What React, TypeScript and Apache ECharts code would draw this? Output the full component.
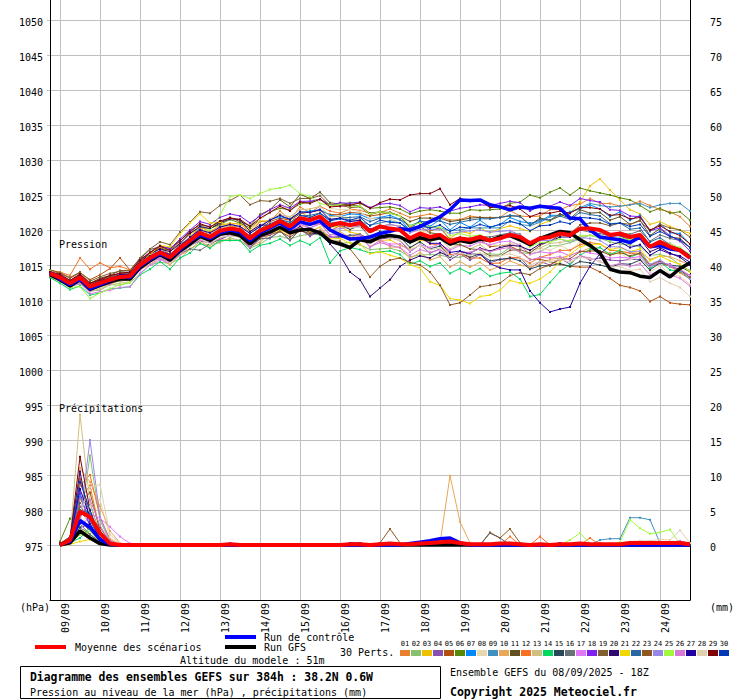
import React, { useEffect, useRef } from "react";
import * as echarts from "echarts";

// ---------- axes ----------
const STEP_HOURS = 6;
const RUN_HOURS = 384;
const DATE_TICK_HOURS = [6, 30, 54, 78, 102, 126, 150, 174, 198, 222, 246, 270, 294, 318, 342, 366];
const DATE_LABELS = ["09/09", "10/09", "11/09", "12/09", "13/09", "14/09", "15/09", "16/09", "17/09", "18/09", "19/09", "20/09", "21/09", "22/09", "23/09", "24/09"];
const PRESSURE_TICKS = [975, 980, 985, 990, 995, 1000, 1005, 1010, 1015, 1020, 1025, 1030, 1035, 1040, 1045, 1050];
const PRECIP_TICKS = [0, 5, 10, 15, 20, 25, 30, 35, 40, 45, 50, 55, 60, 65, 70, 75];
const PRESSURE_MIN = 967.142857;
const PRESSURE_MAX = 1052.857143;
const PRECIP_MIN = -7.857143;
const PRECIP_MAX = 77.857143;

const MEMBER_COLORS = ["#e88030", "#88c070", "#f0c000", "#8850b0", "#b05010", "#588808", "#0088ff", "#e8d8b0", "#4090c0", "#e8a858", "#605020", "#f87020", "#d0c080", "#00d860", "#284858", "#687078", "#e078f8", "#8020f0", "#806030", "#300870", "#f0d800", "#2868a0", "#905820", "#9888e8", "#a0f840", "#d878d8", "#2000a0", "#e0d0b0", "#800008", "#0038b8"];

// ---------- pressure (hPa), every 6 h from 08/09 18Z ----------
const PRES_MEAN = [
  1013.8, 1013.2, 1012.4, 1013.2, 1011.9, 1012.4, 1012.9, 1013.3, 1013.4,
  1015.0, 1016.0, 1016.8, 1016.1, 1017.4, 1018.5, 1019.6, 1019.0, 1019.9, 1020.2, 1020.0,
  1018.8, 1019.9, 1020.5, 1021.3, 1020.5, 1021.7, 1021.4, 1021.9,
  1020.7, 1021.0, 1020.7, 1021.0, 1019.8, 1020.5, 1020.2, 1020.0,
  1018.8, 1019.5, 1019.0, 1019.3, 1018.3, 1018.8, 1018.6, 1019.0, 1018.5, 1018.8,
  1019.3, 1019.0, 1018.1, 1018.8, 1019.0, 1019.5, 1019.3, 1020.2, 1020.2, 1020.0,
  1019.3, 1019.5, 1019.0, 1019.3, 1017.6, 1018.3, 1017.6, 1017.1, 1016.0,
];
const PRES_CONTROL = [
  1013.9, 1013.0, 1012.2, 1013.0, 1011.6, 1012.2, 1012.8, 1013.4, 1013.2,
  1014.8, 1015.8, 1016.6, 1016.0, 1017.2, 1018.4, 1019.3, 1018.8, 1019.6, 1020.0, 1019.7,
  1018.5, 1019.6, 1020.3, 1021.0, 1020.1, 1021.2, 1020.8, 1021.3,
  1020.0, 1019.3, 1018.7, 1018.8, 1019.0, 1019.5, 1019.8, 1020.2,
  1020.0, 1020.5, 1021.2, 1021.9, 1022.9, 1024.3, 1024.2, 1024.3, 1023.6, 1023.3,
  1022.9, 1023.3, 1023.1, 1023.4, 1023.2, 1023.1, 1021.7, 1021.6, 1020.0, 1019.0,
  1018.8, 1018.6, 1018.2, 1019.0, 1017.6, 1017.8, 1017.3, 1017.1, 1016.1,
];
const PRES_GFS = [
  1013.6, 1012.9, 1012.0, 1012.9, 1011.5, 1012.1, 1012.6, 1013.0, 1013.0,
  1014.6, 1015.6, 1016.5, 1015.7, 1017.0, 1018.0, 1019.1, 1018.5, 1019.4, 1019.6, 1019.2,
  1018.0, 1019.2, 1019.7, 1020.4, 1019.6, 1020.0, 1020.1, 1019.6,
  1018.4, 1018.0, 1017.5, 1018.6, 1018.3, 1019.0, 1019.2, 1019.0,
  1018.3, 1018.9, 1018.6, 1018.9, 1018.0, 1018.5, 1018.2, 1018.7, 1018.5, 1019.0,
  1019.2, 1018.6, 1017.9, 1018.8, 1019.3, 1019.8, 1019.6, 1018.6, 1017.8, 1016.7,
  1014.4, 1014.0, 1013.9, 1013.4, 1013.2, 1014.2, 1013.3, 1014.5, 1015.3,
];
const PRES_01 = [
  1014.0, 1013.6, 1012.5, 1013.8, 1012.2, 1013.1, 1013.2, 1013.9, 1013.9,
  1015.2, 1016.8, 1017.2, 1017.0, 1017.9, 1018.8, 1020.6, 1019.6, 1020.8, 1020.7, 1021.1,
  1019.5, 1021.2, 1021.3, 1022.7, 1021.5, 1023.3, 1022.5, 1023.4,
  1022.7, 1022.4, 1023.0, 1022.8, 1022.4, 1022.5, 1023.0, 1022.4,
  1021.8, 1022.0, 1022.3, 1021.9, 1021.4, 1021.5, 1022.0, 1021.8, 1021.8, 1021.8,
  1022.8, 1022.0, 1021.9, 1022.0, 1022.9, 1022.9, 1023.5, 1023.7, 1024.5, 1023.8,
  1023.8, 1023.4, 1023.6, 1024.1, 1023.5, 1022.9, 1022.6, 1021.9, 1020.5,
];
const PRES_02 = [
  1013.5, 1012.7, 1012.0, 1012.3, 1011.3, 1011.4, 1012.2, 1012.1, 1012.5,
  1013.7, 1015.0, 1015.4, 1015.2, 1015.9, 1017.3, 1018.0, 1017.9, 1018.2, 1018.9, 1018.5,
  1017.4, 1018.0, 1018.9, 1019.1, 1018.7, 1019.2, 1019.4, 1019.3,
  1018.3, 1018.1, 1018.2, 1017.9, 1017.2, 1017.3, 1017.4, 1017.0,
  1016.2, 1016.4, 1016.5, 1016.4, 1016.1, 1016.1, 1016.6, 1016.5, 1016.6, 1016.5,
  1017.5, 1016.8, 1016.6, 1016.9, 1017.7, 1017.8, 1018.2, 1018.7, 1019.3, 1018.8,
  1018.3, 1018.0, 1017.9, 1017.6, 1016.4, 1016.5, 1016.1, 1015.0, 1014.2,
];
const PRES_03 = [
  1013.7, 1013.4, 1012.6, 1013.3, 1012.2, 1012.5, 1013.2, 1013.4, 1013.8,
  1015.4, 1016.6, 1017.5, 1016.9, 1018.2, 1019.3, 1020.4, 1019.8, 1020.6, 1021.0, 1020.8,
  1020.0, 1021.3, 1021.3, 1022.3, 1020.9, 1022.6, 1021.7, 1022.4,
  1020.4, 1020.5, 1019.7, 1019.4, 1018.6, 1018.5, 1018.6, 1017.8,
  1017.3, 1018.5, 1018.4, 1019.4, 1018.8, 1019.8, 1019.5, 1020.3, 1019.6, 1020.2,
  1020.6, 1020.2, 1019.8, 1020.8, 1021.3, 1022.0, 1022.4, 1024.0, 1026.3, 1027.3,
  1025.7, 1024.3, 1022.9, 1022.3, 1020.8, 1021.2, 1020.5, 1020.0, 1019.5,
];
const PRES_04 = [
  1014.0, 1013.2, 1012.3, 1012.9, 1011.6, 1012.0, 1012.5, 1012.7, 1012.9,
  1014.4, 1015.6, 1015.9, 1015.6, 1016.4, 1017.8, 1018.4, 1018.2, 1018.6, 1019.3, 1019.0,
  1017.5, 1018.8, 1018.8, 1019.9, 1018.5, 1020.1, 1019.1, 1019.9,
  1019.1, 1018.9, 1019.3, 1019.1, 1018.6, 1018.7, 1018.9, 1018.5,
  1016.9, 1017.9, 1016.7, 1017.3, 1015.7, 1016.6, 1015.7, 1016.5, 1015.3, 1015.8,
  1015.9, 1016.1, 1014.5, 1015.5, 1015.0, 1016.0, 1015.1, 1016.4, 1015.7, 1016.0,
  1015.7, 1015.6, 1015.8, 1015.8, 1014.8, 1015.2, 1015.1, 1014.2, 1013.5,
];
const PRES_05 = [
  1014.3, 1013.8, 1013.1, 1013.9, 1012.9, 1013.6, 1014.5, 1016.0, 1014.3,
  1015.9, 1016.6, 1017.6, 1016.4, 1017.9, 1018.6, 1020.0, 1018.8, 1020.1, 1019.9, 1020.1,
  1019.2, 1020.1, 1021.2, 1021.7, 1021.4, 1022.3, 1022.6, 1022.8,
  1022.2, 1022.2, 1022.5, 1022.4, 1022.0, 1022.2, 1022.5, 1022.0,
  1020.3, 1021.3, 1019.9, 1020.3, 1018.7, 1019.0, 1018.3, 1018.6, 1017.6, 1017.8,
  1017.7, 1017.0, 1015.8, 1015.8, 1015.5, 1015.1, 1014.8, 1014.7, 1014.7, 1014.0,
  1013.1, 1012.1, 1011.8, 1011.3, 1009.8, 1010.5, 1009.6, 1009.4, 1009.3,
];
const PRES_06 = [
  1013.9, 1013.4, 1012.6, 1013.6, 1012.1, 1012.9, 1013.1, 1013.9, 1013.8,
  1015.5, 1016.8, 1017.4, 1017.1, 1018.1, 1019.6, 1020.4, 1020.2, 1020.8, 1021.5, 1021.0,
  1020.3, 1021.5, 1022.6, 1023.1, 1022.9, 1023.7, 1024.0, 1024.4,
  1023.6, 1023.6, 1023.9, 1023.8, 1023.1, 1023.2, 1023.3, 1023.0,
  1022.3, 1022.7, 1022.9, 1022.7, 1022.4, 1022.4, 1022.9, 1022.8, 1022.9, 1023.0,
  1023.8, 1024.0, 1025.0, 1024.6, 1025.4, 1026.0, 1025.0, 1026.0, 1025.6, 1025.3,
  1025.0, 1024.6, 1024.3, 1023.5, 1022.6, 1023.1, 1022.4, 1022.6, 1021.4,
];
const PRES_07 = [
  1013.6, 1013.1, 1012.2, 1013.3, 1011.7, 1012.5, 1012.8, 1013.5, 1013.3,
  1015.3, 1016.1, 1017.3, 1016.3, 1018.0, 1018.8, 1020.3, 1019.2, 1020.5, 1020.6, 1020.5,
  1019.6, 1020.4, 1021.5, 1021.9, 1021.6, 1022.5, 1022.7, 1022.9,
  1022.1, 1021.9, 1022.3, 1022.2, 1021.6, 1021.8, 1022.1, 1021.5,
  1020.0, 1021.4, 1020.5, 1021.5, 1020.0, 1021.1, 1020.4, 1021.4, 1020.4, 1020.8,
  1021.8, 1021.2, 1021.0, 1021.2, 1022.1, 1022.1, 1022.6, 1023.0, 1023.6, 1023.0,
  1021.9, 1022.6, 1021.4, 1022.1, 1019.8, 1020.9, 1019.6, 1019.5, 1018.0,
];
const PRES_08 = [
  1014.1, 1013.4, 1012.6, 1013.3, 1012.0, 1012.3, 1013.1, 1013.2, 1013.4,
  1015.3, 1016.6, 1017.2, 1017.0, 1018.1, 1019.7, 1020.5, 1020.4, 1021.0, 1021.8, 1021.5,
  1020.7, 1021.5, 1022.7, 1023.3, 1023.1, 1024.0, 1024.2, 1024.4,
  1023.1, 1022.9, 1022.9, 1022.6, 1021.6, 1021.7, 1021.6, 1021.0,
  1019.7, 1019.9, 1019.6, 1019.3, 1018.4, 1018.4, 1018.3, 1018.2, 1017.9, 1017.8,
  1018.0, 1018.0, 1016.5, 1017.4, 1017.1, 1017.8, 1017.1, 1018.2, 1017.6, 1017.5,
  1016.4, 1016.8, 1015.7, 1016.3, 1014.0, 1014.9, 1013.7, 1013.4, 1012.2,
];
const PRES_09 = [
  1013.8, 1013.0, 1012.2, 1012.9, 1011.7, 1012.0, 1012.7, 1012.9, 1013.1,
  1014.4, 1015.7, 1016.1, 1015.7, 1016.8, 1018.2, 1018.9, 1018.6, 1019.3, 1019.9, 1019.5,
  1018.2, 1019.7, 1020.0, 1021.4, 1020.2, 1021.9, 1021.2, 1021.9,
  1021.1, 1021.1, 1021.3, 1021.3, 1020.7, 1021.0, 1021.3, 1021.0,
  1020.1, 1020.4, 1020.4, 1020.3, 1019.9, 1020.0, 1020.3, 1020.3, 1020.3, 1020.3,
  1021.3, 1020.8, 1020.6, 1021.1, 1021.9, 1022.1, 1022.5, 1023.2, 1023.8, 1023.5,
  1023.3, 1023.4, 1023.6, 1023.8, 1023.2, 1023.6, 1023.8, 1023.8, 1022.7,
];
const PRES_10 = [
  1013.3, 1012.6, 1012.0, 1012.6, 1011.5, 1011.8, 1012.5, 1012.7, 1012.9,
  1014.3, 1015.1, 1016.0, 1015.0, 1016.4, 1017.2, 1018.4, 1017.5, 1018.6, 1018.6, 1018.5,
  1017.6, 1018.3, 1019.4, 1019.9, 1019.7, 1020.5, 1020.7, 1020.9,
  1019.3, 1019.8, 1018.9, 1019.4, 1017.6, 1018.5, 1017.6, 1017.5,
  1015.9, 1016.8, 1015.7, 1016.2, 1014.7, 1015.5, 1014.7, 1015.4, 1014.3, 1014.8,
  1015.6, 1015.0, 1014.7, 1015.1, 1015.8, 1016.0, 1016.4, 1016.9, 1017.4, 1017.0,
  1016.7, 1016.6, 1016.8, 1016.9, 1015.8, 1016.3, 1016.2, 1015.6, 1015.0,
];
const PRES_11 = [
  1014.0, 1013.6, 1012.7, 1013.7, 1012.4, 1013.1, 1013.5, 1014.2, 1014.2,
  1015.9, 1017.2, 1017.6, 1017.4, 1018.4, 1019.9, 1020.7, 1020.5, 1021.1, 1021.8, 1021.2,
  1020.6, 1022.2, 1022.9, 1024.3, 1023.3, 1025.1, 1024.5, 1025.4,
  1023.9, 1023.7, 1023.6, 1023.4, 1022.4, 1022.6, 1022.5, 1022.0,
  1021.2, 1021.7, 1021.7, 1021.7, 1021.2, 1021.4, 1021.7, 1021.8, 1021.7, 1021.8,
  1022.0, 1022.0, 1020.7, 1021.7, 1021.4, 1022.3, 1021.6, 1022.9, 1022.4, 1022.5,
  1021.4, 1021.9, 1020.8, 1021.4, 1019.2, 1020.2, 1019.0, 1018.8, 1017.5,
];
const PRES_12 = [
  1014.2, 1014.0, 1013.5, 1016.0, 1014.4, 1015.3, 1014.6, 1014.8, 1014.3,
  1015.6, 1016.3, 1017.5, 1016.5, 1017.9, 1018.7, 1020.2, 1019.3, 1020.4, 1020.4, 1020.5,
  1018.9, 1019.7, 1020.5, 1020.8, 1020.2, 1020.9, 1020.8, 1020.9,
  1019.9, 1020.6, 1020.1, 1020.9, 1020.0, 1020.5, 1020.8, 1020.5,
  1018.7, 1019.0, 1018.0, 1017.9, 1016.5, 1016.6, 1016.0, 1016.0, 1015.2, 1015.3,
  1016.1, 1016.0, 1015.3, 1016.1, 1016.5, 1017.1, 1017.1, 1017.9, 1018.2, 1018.0,
  1017.1, 1017.0, 1016.7, 1016.5, 1015.0, 1015.3, 1014.8, 1013.9, 1013.0,
];
const PRES_13 = [
  1013.5, 1012.8, 1011.8, 1012.6, 1011.2, 1011.6, 1012.2, 1012.4, 1012.6,
  1014.4, 1015.6, 1016.5, 1016.0, 1017.4, 1018.7, 1019.7, 1019.4, 1020.2, 1020.8, 1020.5,
  1019.6, 1020.6, 1021.6, 1022.2, 1021.9, 1022.9, 1023.0, 1023.4,
  1021.9, 1022.0, 1021.4, 1021.6, 1020.1, 1020.8, 1020.1, 1020.0,
  1018.4, 1019.3, 1018.3, 1018.8, 1017.3, 1018.0, 1017.3, 1017.9, 1016.9, 1017.3,
  1018.1, 1017.5, 1017.1, 1017.4, 1018.1, 1018.2, 1018.5, 1019.0, 1019.3, 1019.0,
  1018.7, 1018.7, 1018.8, 1018.9, 1017.8, 1018.3, 1018.1, 1017.4, 1016.5,
];
const PRES_14 = [
  1013.2, 1012.4, 1011.5, 1012.0, 1010.7, 1011.0, 1011.6, 1011.7, 1011.9,
  1013.6, 1014.4, 1015.5, 1014.4, 1016.0, 1016.7, 1018.1, 1017.4, 1018.5, 1018.5, 1018.5,
  1016.9, 1017.8, 1018.1, 1018.7, 1017.8, 1018.5, 1017.9, 1018.9,
  1015.3, 1017.0, 1017.5, 1017.2, 1016.7, 1016.9, 1017.0, 1016.5,
  1015.1, 1015.6, 1014.8, 1015.3, 1013.8, 1014.5, 1013.8, 1014.5, 1013.4, 1013.8,
  1014.0, 1013.0, 1010.5, 1010.8, 1012.5, 1014.1, 1015.1, 1016.4, 1017.2, 1017.5,
  1016.5, 1017.1, 1016.1, 1016.7, 1014.5, 1015.5, 1014.3, 1014.1, 1013.0,
];
const PRES_15 = [
  1013.8, 1013.3, 1012.6, 1013.4, 1012.0, 1012.7, 1013.0, 1013.6, 1013.7,
  1015.1, 1015.9, 1016.8, 1015.8, 1017.2, 1018.0, 1019.3, 1018.4, 1019.5, 1019.5, 1019.5,
  1018.4, 1019.3, 1020.3, 1020.9, 1020.6, 1021.5, 1021.6, 1021.9,
  1020.4, 1020.8, 1020.1, 1020.6, 1019.0, 1019.8, 1019.1, 1019.0,
  1017.5, 1018.3, 1017.3, 1017.7, 1016.2, 1016.8, 1016.1, 1016.6, 1015.6, 1015.8,
  1016.0, 1015.6, 1014.4, 1014.9, 1014.9, 1015.2, 1014.8, 1015.5, 1015.3, 1015.0,
  1014.6, 1015.2, 1015.1, 1015.7, 1014.3, 1015.3, 1015.0, 1014.8, 1014.0,
];
const PRES_16 = [
  1013.9, 1013.2, 1012.5, 1013.2, 1012.0, 1012.3, 1013.0, 1013.2, 1013.4,
  1014.8, 1015.6, 1016.5, 1015.5, 1016.6, 1017.3, 1017.1, 1018.0, 1018.7, 1019.3, 1019.0,
  1017.5, 1018.7, 1018.9, 1019.8, 1018.6, 1020.0, 1019.3, 1019.9,
  1018.9, 1019.1, 1019.2, 1019.4, 1018.6, 1019.2, 1019.3, 1019.0,
  1018.1, 1018.7, 1018.6, 1018.8, 1018.2, 1018.6, 1018.8, 1019.1, 1019.0, 1019.3,
  1019.6, 1019.4, 1018.2, 1019.0, 1018.9, 1019.5, 1019.0, 1020.0, 1019.7, 1019.5,
  1019.1, 1019.6, 1019.4, 1019.9, 1018.4, 1019.3, 1018.8, 1018.5, 1017.5,
];
const PRES_17 = [
  1013.6, 1012.8, 1011.9, 1012.4, 1010.9, 1011.2, 1011.4, 1011.8, 1011.9,
  1013.8, 1015.0, 1015.7, 1015.3, 1016.5, 1017.9, 1018.8, 1018.5, 1019.2, 1019.8, 1019.5,
  1018.1, 1019.3, 1019.5, 1020.4, 1019.2, 1020.5, 1019.8, 1020.4,
  1018.9, 1019.4, 1018.6, 1019.2, 1017.5, 1018.5, 1018.0, 1018.0,
  1017.0, 1017.9, 1017.5, 1018.0, 1017.1, 1017.8, 1017.7, 1018.3, 1017.9, 1018.3,
  1018.4, 1017.8, 1016.5, 1016.9, 1016.7, 1016.9, 1016.3, 1017.0, 1016.7, 1016.5,
  1016.0, 1016.1, 1016.0, 1016.2, 1014.8, 1015.4, 1015.0, 1014.4, 1013.5,
];
const PRES_18 = [
  1014.1, 1013.5, 1012.8, 1013.6, 1012.3, 1012.9, 1013.4, 1013.8, 1013.9,
  1015.7, 1016.8, 1017.8, 1017.3, 1018.7, 1020.0, 1021.2, 1020.8, 1021.8, 1022.3, 1022.0,
  1021.0, 1022.0, 1022.9, 1023.6, 1023.1, 1024.1, 1024.1, 1024.4,
  1023.5, 1023.9, 1023.8, 1024.0, 1023.2, 1023.7, 1023.8, 1023.5,
  1022.6, 1023.2, 1023.1, 1023.3, 1022.7, 1023.1, 1023.3, 1023.6, 1023.5, 1023.8,
  1024.1, 1023.9, 1022.7, 1023.5, 1023.4, 1024.0, 1023.5, 1024.5, 1024.2, 1024.0,
  1022.9, 1022.8, 1022.0, 1021.9, 1019.9, 1020.3, 1019.2, 1018.4, 1017.0,
];
const PRES_19 = [
  1014.3, 1013.9, 1013.2, 1014.0, 1012.7, 1013.3, 1013.8, 1014.1, 1014.2,
  1016.0, 1017.3, 1018.3, 1017.9, 1019.7, 1021.1, 1022.6, 1022.4, 1023.5, 1024.2, 1025.0,
  1023.6, 1024.2, 1024.1, 1024.5, 1023.8, 1024.5, 1024.5, 1024.9,
  1023.5, 1023.6, 1023.2, 1023.3, 1022.2, 1022.6, 1022.4, 1022.0,
  1020.3, 1020.5, 1019.6, 1019.4, 1017.9, 1017.9, 1017.3, 1017.2, 1016.3, 1016.3,
  1017.1, 1017.2, 1016.7, 1017.8, 1018.4, 1019.3, 1019.5, 1020.7, 1021.0, 1021.0,
  1020.6, 1021.0, 1020.8, 1021.3, 1019.9, 1020.8, 1020.3, 1020.0, 1019.0,
];
const PRES_20 = [
  1013.8, 1013.3, 1012.7, 1013.4, 1012.1, 1012.8, 1013.1, 1013.6, 1013.7,
  1015.4, 1016.6, 1017.3, 1016.9, 1018.1, 1019.5, 1020.5, 1020.2, 1021.0, 1021.6, 1021.5,
  1019.8, 1020.7, 1020.7, 1021.0, 1019.7, 1020.5, 1019.6, 1019.4,
  1018.0, 1016.4, 1014.0, 1012.9, 1010.5, 1011.7, 1012.9, 1014.8,
  1015.7, 1016.3, 1016.0, 1016.8, 1016.2, 1016.9, 1016.7, 1017.4, 1017.0, 1017.5,
  1017.8, 1017.7, 1017.1, 1018.0, 1018.4, 1019.0, 1019.0, 1020.0, 1020.2, 1020.0,
  1019.1, 1019.2, 1018.5, 1018.7, 1016.9, 1017.5, 1016.7, 1016.1, 1015.0,
];
const PRES_21 = [
  1013.5, 1012.9, 1012.0, 1012.8, 1011.4, 1011.9, 1012.3, 1012.8, 1012.8,
  1015.0, 1016.5, 1017.8, 1017.6, 1019.4, 1021.0, 1022.3, 1021.0, 1021.1, 1020.6, 1019.8,
  1018.3, 1019.3, 1019.6, 1020.1, 1019.2, 1020.2, 1019.8, 1020.4,
  1018.7, 1018.8, 1018.1, 1018.0, 1016.6, 1016.9, 1016.4, 1016.0,
  1015.0, 1014.6, 1012.6, 1012.1, 1010.2, 1010.0, 1009.5, 1010.5, 1010.7, 1011.4,
  1012.8, 1012.4, 1012.4, 1013.0, 1014.0, 1015.5, 1016.5, 1017.6, 1017.9, 1018.0,
  1017.2, 1017.5, 1016.9, 1017.3, 1015.6, 1016.3, 1015.6, 1015.1, 1014.0,
];
const PRES_22 = [
  1014.0, 1013.3, 1012.5, 1013.3, 1011.9, 1012.3, 1013.0, 1013.2, 1013.4,
  1015.2, 1015.9, 1017.0, 1015.9, 1017.5, 1018.4, 1019.8, 1018.9, 1020.0, 1020.3, 1020.0,
  1019.1, 1020.0, 1020.9, 1021.5, 1021.1, 1022.0, 1022.1, 1022.4,
  1021.5, 1021.7, 1021.8, 1021.9, 1021.2, 1021.7, 1021.8, 1021.5,
  1020.6, 1021.2, 1021.2, 1021.3, 1020.8, 1021.1, 1021.4, 1021.6, 1021.6, 1021.8,
  1022.1, 1021.9, 1020.7, 1021.5, 1021.4, 1022.0, 1021.5, 1022.5, 1022.2, 1022.0,
  1020.9, 1021.0, 1020.1, 1020.3, 1018.3, 1018.9, 1017.9, 1017.3, 1016.0,
];
const PRES_23 = [
  1013.6, 1013.4, 1012.7, 1013.6, 1012.2, 1012.9, 1013.3, 1013.8, 1013.9,
  1015.3, 1016.2, 1016.7, 1015.9, 1017.1, 1018.3, 1019.1, 1018.6, 1019.3, 1019.7, 1019.5,
  1018.0, 1018.9, 1019.3, 1019.8, 1019.0, 1019.9, 1019.5, 1019.9,
  1018.4, 1018.4, 1017.3, 1015.5, 1013.3, 1014.8, 1015.7, 1016.0,
  1015.4, 1015.0, 1014.0, 1012.1, 1009.3, 1009.6, 1010.7, 1011.9, 1012.1, 1012.4,
  1013.5, 1013.9, 1013.6, 1014.5, 1015.0, 1015.8, 1015.9, 1016.9, 1017.0, 1017.0,
  1016.4, 1016.8, 1016.3, 1016.7, 1015.0, 1015.6, 1014.8, 1014.3, 1013.2,
];
const PRES_24 = [
  1013.8, 1013.0, 1012.1, 1012.8, 1011.4, 1011.9, 1012.4, 1012.8, 1012.9,
  1014.6, 1015.7, 1016.6, 1015.8, 1017.3, 1018.3, 1019.7, 1018.9, 1020.1, 1020.1, 1020.0,
  1018.5, 1019.7, 1019.9, 1020.9, 1019.6, 1021.0, 1020.3, 1020.9,
  1020.0, 1020.2, 1020.4, 1020.6, 1019.9, 1020.5, 1020.8, 1020.5,
  1019.6, 1020.1, 1020.1, 1020.1, 1019.5, 1019.7, 1019.9, 1020.0, 1019.7, 1019.8,
  1019.9, 1019.3, 1018.2, 1018.5, 1018.5, 1018.7, 1018.3, 1018.9, 1018.8, 1018.5,
  1017.6, 1017.6, 1016.9, 1017.0, 1015.1, 1015.7, 1014.8, 1014.2, 1013.0,
];
const PRES_25 = [
  1014.1, 1013.0, 1011.8, 1011.9, 1010.2, 1011.0, 1011.6, 1012.2, 1012.5,
  1014.4, 1015.7, 1016.7, 1015.9, 1017.6, 1018.3, 1019.9, 1020.0, 1022.1, 1024.8, 1025.0,
  1024.5, 1025.2, 1025.8, 1026.0, 1026.4, 1025.2, 1024.8, 1023.8,
  1023.5, 1023.6, 1023.4, 1023.4, 1022.3, 1022.6, 1022.4, 1022.0,
  1020.6, 1021.0, 1020.4, 1020.4, 1019.2, 1019.5, 1019.1, 1019.3, 1018.7, 1018.8,
  1019.1, 1018.7, 1017.6, 1018.2, 1018.3, 1018.7, 1018.4, 1019.2, 1019.2, 1019.0,
  1018.5, 1018.9, 1018.6, 1019.1, 1017.6, 1018.5, 1017.9, 1017.5, 1016.5,
];
const PRES_26 = [
  1013.4, 1012.7, 1012.0, 1012.7, 1011.3, 1012.0, 1012.3, 1012.9, 1012.9,
  1014.3, 1015.4, 1016.0, 1015.4, 1016.5, 1017.7, 1018.6, 1018.1, 1018.8, 1019.3, 1019.0,
  1017.6, 1019.0, 1019.4, 1020.5, 1019.3, 1020.8, 1020.3, 1020.9,
  1019.3, 1019.4, 1018.9, 1019.0, 1017.6, 1018.2, 1017.8, 1017.5,
  1016.4, 1017.2, 1016.8, 1017.2, 1016.3, 1016.9, 1016.8, 1017.3, 1016.9, 1017.3,
  1017.5, 1016.9, 1015.7, 1016.1, 1016.0, 1016.2, 1015.7, 1016.3, 1016.0, 1015.5,
  1014.9, 1015.2, 1014.8, 1015.2, 1013.6, 1014.3, 1013.6, 1013.1, 1012.0,
];
const PRES_27 = [
  1013.9, 1013.4, 1012.6, 1013.4, 1012.0, 1012.6, 1013.0, 1013.5, 1013.6,
  1015.2, 1016.3, 1017.0, 1016.5, 1017.7, 1019.0, 1020.0, 1019.6, 1020.4, 1020.8, 1020.5,
  1019.5, 1020.5, 1021.4, 1022.1, 1021.5, 1022.6, 1022.5, 1022.9,
  1021.5, 1021.7, 1021.2, 1021.4, 1020.1, 1020.6, 1020.3, 1020.0,
  1018.5, 1018.9, 1018.1, 1018.1, 1016.8, 1017.0, 1016.5, 1016.6, 1015.2, 1014.6,
  1014.3, 1014.3, 1011.3, 1009.6, 1008.3, 1008.7, 1009.0, 1012.4, 1014.8, 1016.6,
  1017.8, 1018.3, 1017.5, 1017.9, 1016.4, 1017.2, 1016.6, 1016.3, 1015.4,
];
const PRES_28 = [
  1013.8, 1013.0, 1012.2, 1012.9, 1011.6, 1011.9, 1012.6, 1012.9, 1013.1,
  1014.6, 1015.4, 1016.3, 1015.3, 1016.7, 1017.6, 1018.8, 1018.0, 1019.0, 1019.1, 1019.0,
  1018.1, 1019.4, 1020.2, 1021.2, 1020.6, 1022.0, 1021.8, 1022.4,
  1020.9, 1020.9, 1020.3, 1020.4, 1018.9, 1019.4, 1018.9, 1018.5,
  1017.2, 1017.8, 1017.2, 1017.4, 1016.3, 1016.7, 1016.4, 1016.7, 1016.1, 1016.3,
  1016.6, 1016.1, 1015.0, 1015.5, 1015.5, 1015.8, 1015.4, 1016.1, 1015.9, 1015.5,
  1014.7, 1014.8, 1014.2, 1014.4, 1012.6, 1013.2, 1012.4, 1011.8, 1010.5,
];
const PRES_29 = [
  1014.0, 1013.7, 1012.8, 1013.7, 1012.4, 1012.9, 1013.5, 1013.8, 1014.0,
  1015.7, 1016.8, 1017.7, 1017.1, 1018.5, 1019.7, 1020.9, 1020.4, 1021.3, 1021.7, 1021.5,
  1020.5, 1021.7, 1022.5, 1023.4, 1022.7, 1024.0, 1023.8, 1024.4,
  1023.3, 1023.4, 1023.5, 1023.9, 1023.1, 1023.9, 1024.4, 1024.3,
  1025.0, 1025.2, 1025.2, 1025.9, 1023.6, 1024.5, 1024.1, 1024.2, 1023.2, 1023.3,
  1023.5, 1023.0, 1021.9, 1022.4, 1022.4, 1022.7, 1022.4, 1023.2, 1023.2, 1023.0,
  1022.1, 1022.2, 1021.6, 1021.8, 1020.0, 1020.6, 1019.8, 1019.2, 1018.0,
];
const PRES_30 = [
  1013.7, 1013.1, 1012.3, 1013.1, 1011.8, 1012.3, 1012.9, 1013.2, 1013.4,
  1014.9, 1015.7, 1016.6, 1015.7, 1017.1, 1018.0, 1019.2, 1018.4, 1019.5, 1019.6, 1019.5,
  1018.6, 1019.8, 1020.6, 1021.5, 1020.8, 1022.1, 1021.8, 1022.4,
  1021.3, 1021.6, 1021.4, 1021.8, 1020.6, 1021.4, 1021.1, 1021.0,
  1019.9, 1020.7, 1020.3, 1020.7, 1019.8, 1020.4, 1020.3, 1020.8, 1020.4, 1020.8,
  1021.2, 1020.9, 1019.9, 1020.6, 1020.7, 1021.2, 1020.9, 1021.8, 1021.7, 1021.5,
  1020.8, 1021.0, 1020.5, 1020.8, 1019.1, 1019.8, 1019.1, 1018.6, 1017.5,
];
const MEMBER_PRESSURE = [PRES_01, PRES_02, PRES_03, PRES_04, PRES_05, PRES_06, PRES_07, PRES_08, PRES_09, PRES_10, PRES_11, PRES_12, PRES_13, PRES_14, PRES_15, PRES_16, PRES_17, PRES_18, PRES_19, PRES_20, PRES_21, PRES_22, PRES_23, PRES_24, PRES_25, PRES_26, PRES_27, PRES_28, PRES_29, PRES_30];

// ---------- precipitation (mm per 6 h), from 09/09 00Z ----------
const RAIN_MEAN = [
  0, 0.7, 4.8, 4, 1.7, 0.2, 0, 0,
  0, 0, 0, 0, 0, 0, 0, 0,
  0, 0.1, 0, 0, 0, 0, 0, 0,
  0, 0, 0, 0, 0, 0.1, 0.1, 0,
  0.1, 0.2, 0.1, 0.1, 0.2, 0.3, 0.4, 0.5,
  0.3, 0.1, 0.1, 0.1, 0.2, 0.2, 0.1, 0,
  0.1, 0, 0.1, 0.1, 0.2, 0.1, 0.1, 0.1,
  0.1, 0.3, 0.3, 0.3, 0.3, 0.3, 0.3, 0.1,
];
const RAIN_CONTROL = [
  0.1, 0.5, 3.5, 2.5, 0.8, 0.1, 0, 0,
  0, 0, 0, 0, 0, 0, 0, 0,
  0, 0, 0, 0, 0, 0, 0, 0,
  0, 0, 0, 0, 0, 0, 0, 0,
  0, 0, 0, 0.2, 0.4, 0.6, 0.9, 1.0,
  0.3, 0, 0, 0, 0, 0, 0, 0,
  0, 0, 0, 0, 0, 0, 0, 0,
  0, 0, 0, 0, 0, 0, 0, 0,
];
const RAIN_GFS = [
  0, 0.3, 2, 1, 0.2, 0, 0, 0,
  0, 0, 0, 0, 0, 0, 0, 0,
  0, 0, 0, 0, 0, 0, 0, 0,
  0, 0, 0, 0, 0, 0, 0, 0,
  0, 0, 0, 0, 0, 0, 0, 0,
  0, 0, 0, 0, 0, 0, 0, 0,
  0, 0, 0, 0, 0, 0, 0, 0,
  0, 0, 0, 0, 0, 0, 0, 0,
];
const RAIN_01 = [
  0.2, 1, 6.5, 8.5, 2, 0.3, 0, 0,
  0, 0, 0, 0, 0, 0, 0, 0,
  0, 0, 0, 0, 0, 0, 0, 0,
  0, 0, 0, 0, 0, 0, 0, 0,
  0, 0, 0, 0, 0, 0.3, 0.1, 0,
  0, 0, 0, 0, 0, 0, 0, 0,
  0, 0, 0, 0, 0, 0, 0, 0,
  0, 0, 0, 0, 0, 0, 0.2, 0,
];
const RAIN_02 = [
  0.1, 0.5, 3, 12.8, 3.5, 0.5, 0, 0,
  0, 0, 0, 0, 0, 0, 0, 0,
  0, 0, 0, 0, 0, 0, 0, 0,
  0, 0, 0, 0, 0, 0, 0, 0,
  0, 0, 0, 0, 0, 0, 0, 0,
  0, 0, 0, 0, 0, 0, 0, 0,
  0, 0, 0, 0, 0.2, 0, 0, 0,
  0, 0, 0, 0, 0, 0, 0, 0,
];
const RAIN_03 = [
  0, 0.2, 1.5, 2, 0.8, 0, 0, 0,
  0, 0, 0, 0, 0, 0, 0, 0,
  0, 0, 0, 0, 0, 0, 0, 0,
  0, 0, 0, 0, 0, 0, 0, 0,
  0, 0, 0, 0, 0, 0, 0, 0,
  0, 0, 0, 0, 0, 0, 0, 0,
  0, 0, 0, 0, 0, 0, 0, 0,
  0, 0, 0, 0, 0, 0, 0, 0,
];
const RAIN_04 = [
  0.1, 0.8, 5, 3, 1, 0.1, 0, 0,
  0, 0, 0, 0, 0, 0, 0, 0,
  0, 0, 0, 0, 0, 0, 0, 0,
  0, 0, 0, 0, 0, 0.2, 0, 0,
  0, 0, 0, 0, 0, 0, 0, 0,
  0, 0, 0, 0, 0, 0, 0, 0,
  0, 0, 0, 0, 0, 0, 0, 0,
  0, 0, 0, 0, 0, 0, 0, 0,
];
const RAIN_05 = [
  0, 0.4, 9.5, 4.5, 0.8, 0.2, 0, 0,
  0, 0, 0, 0, 0, 0, 0, 0,
  0, 0, 0, 0, 0, 0, 0, 0,
  0, 0, 0, 0, 0, 0, 0, 0,
  0, 0, 0, 0, 0, 0, 0, 0,
  0, 0, 0, 0, 0, 0, 0, 0,
  0, 0, 0, 0, 0, 0, 0.3, 0,
  0, 0, 0, 0, 0, 0, 0, 0,
];
const RAIN_06 = [
  0.5, 3.8, 2.5, 1.5, 0.5, 0, 0, 0,
  0, 0, 0, 0, 0, 0, 0, 0,
  0, 0, 0, 0, 0, 0, 0, 0,
  0, 0, 0, 0, 0, 0, 0, 0,
  0, 0, 0, 0, 0, 0, 0, 0,
  0, 0, 0, 0, 0, 0, 0, 0,
  0, 0, 0, 0, 0, 0, 0, 0,
  0, 0, 0, 0.2, 0, 0, 0, 0,
];
const RAIN_07 = [
  0, 0.3, 7, 3.5, 0.6, 0, 0, 0,
  0, 0, 0, 0, 0, 0, 0, 0,
  0, 0, 0, 0, 0, 0, 0, 0,
  0, 0, 0, 0, 0, 0, 0, 0,
  0, 0, 0, 0, 0, 0, 0.3, 0.2,
  0, 0, 0, 0, 0, 0, 0, 0,
  0, 0, 0, 0, 0, 0, 0, 0,
  0, 0, 0, 0, 0, 0, 0, 0,
];
const RAIN_08 = [
  0, 0.2, 2, 5.5, 6.5, 1, 0.2, 0,
  0, 0, 0, 0, 0, 0, 0, 0,
  0, 0, 0, 0, 0, 0, 0, 0,
  0, 0, 0, 0, 0, 0, 0, 0,
  0, 0, 0, 0, 0, 0, 0, 0,
  0, 0, 0, 0, 0, 0, 0, 0,
  0, 0, 0, 0, 0, 0, 0, 0,
  0, 0, 0, 0, 0, 0, 0, 0,
];
const RAIN_09 = [
  0.1, 0.6, 4, 6, 1.5, 0.2, 0, 0,
  0, 0, 0, 0, 0, 0, 0, 0,
  0, 0, 0, 0, 0, 0, 0, 0,
  0, 0, 0, 0, 0, 0, 0, 0,
  0, 0, 0, 0, 0, 0, 0, 0,
  0, 0, 0, 0, 0, 0, 0, 0,
  0, 0, 0, 0, 0, 0, 0.7, 0.9,
  0.9, 3.9, 3.9, 3.6, 0.3, 0, 0, 0,
];
const RAIN_10 = [
  0, 0.5, 11, 9, 5.5, 2, 0.3, 0,
  0, 0, 0, 0, 0, 0, 0, 0,
  0, 0, 0, 0, 0, 0, 0, 0,
  0, 0, 0, 0, 0, 0, 0, 0,
  0, 0, 0, 0, 0, 0, 0.2, 9.9,
  3.3, 0.3, 0, 0, 0, 0, 0, 0,
  0, 0, 0, 0, 0, 0, 0, 0,
  0, 0, 0, 0, 0, 0, 0, 0,
];
const RAIN_11 = [
  0.2, 1.2, 3.5, 2, 0.5, 0, 0, 0,
  0, 0, 0, 0, 0, 0, 0, 0,
  0, 0, 0, 0, 0, 0, 0, 0,
  0, 0, 0, 0, 0, 0, 0, 0,
  0, 0, 0, 0, 0, 0, 0, 0,
  0, 0, 0, 0, 0, 0, 0, 0,
  0, 0, 0, 0, 0, 0, 0, 0,
  0, 0, 0, 0, 0, 0, 0, 0,
];
const RAIN_12 = [
  0.1, 0.6, 8.5, 10, 4, 0.8, 0, 0,
  0, 0, 0, 0, 0, 0, 0, 0,
  0, 0, 0, 0, 0, 0, 0, 0,
  0, 0, 0, 0, 0, 0, 0, 0,
  0, 0, 0, 0, 0, 0, 0, 0,
  0, 0, 0, 0, 0, 1.2, 0, 0,
  1.2, 0, 0, 0, 0, 1.0, 0, 0,
  0, 0, 0, 0, 0, 0, 0, 0,
];
const RAIN_13 = [
  0, 0.8, 18.6, 6, 1.2, 0.2, 0, 0,
  0, 0, 0, 0, 0, 0, 0, 0,
  0, 0, 0, 0, 0, 0, 0, 0,
  0, 0, 0, 0, 0, 0, 0, 0,
  0, 0, 0, 0, 0, 0, 0, 0,
  0, 0, 0, 0, 0, 0, 0, 0,
  0, 0, 0, 0, 0, 0, 0, 0,
  0, 0, 0, 0, 0, 0, 0, 0,
];
const RAIN_14 = [
  0, 0.3, 1, 2.5, 0.6, 0, 0, 0,
  0, 0, 0, 0, 0, 0, 0, 0,
  0, 0, 0, 0, 0, 0, 0, 0,
  0, 0, 0, 0, 0, 0, 0, 0,
  0, 0, 0, 0, 0, 0, 0, 0,
  0, 0, 0, 0, 0, 0, 0.2, 0,
  0, 0, 0, 0, 0, 0, 0, 0,
  0, 0, 0, 0, 0, 0, 0, 0,
];
const RAIN_15 = [
  0.1, 0.5, 2.5, 3, 0.4, 0, 0, 0,
  0, 0, 0, 0, 0, 0, 0, 0,
  0, 0, 0, 0, 0, 0, 0, 0,
  0, 0, 0, 0, 0, 0, 0, 0,
  0, 0, 0, 0, 0, 0, 0, 0,
  0, 0, 0, 0, 0, 0, 0, 0,
  0, 0, 0, 0, 0, 0, 0, 0,
  0, 0, 0, 0, 0, 0, 0, 0,
];
const RAIN_16 = [
  0, 0.2, 3, 1.5, 0.3, 0, 0, 0,
  0, 0, 0, 0, 0, 0, 0, 0,
  0, 0, 0, 0, 0, 0, 0, 0,
  0, 0, 0, 0, 0, 0, 0, 0,
  0, 0, 0, 0, 0, 0, 0, 0,
  0, 0, 0, 0, 0, 0, 0, 0,
  0, 0, 0, 0, 0, 0, 0, 0,
  0, 0, 0, 0, 0, 0, 0, 0,
];
const RAIN_17 = [
  0, 0.3, 2, 4.5, 3.8, 2.6, 1.2, 0.2,
  0, 0, 0, 0, 0, 0, 0, 0,
  0, 0, 0, 0, 0, 0, 0, 0,
  0, 0, 0, 0, 0, 0, 0, 0,
  0, 0, 0, 0, 0, 0.3, 0.2, 0,
  0, 0, 0, 0, 0, 0, 0, 0,
  0, 0, 0, 0, 0, 0, 0, 0,
  0, 0, 0, 0, 0.3, 0.2, 0.4, 0,
];
const RAIN_18 = [
  0.1, 0.7, 7.5, 2.5, 0.5, 0, 0, 0,
  0, 0, 0, 0, 0, 0, 0, 0,
  0, 0.3, 0, 0, 0, 0, 0, 0,
  0, 0, 0, 0, 0, 0, 0, 0,
  0, 0, 0, 0, 0, 0, 0, 0,
  0, 0, 0, 0, 0, 0, 0, 0,
  0, 0, 0, 0, 0, 0, 0, 0,
  0, 0, 0, 0, 0, 0, 0, 0,
];
const RAIN_19 = [
  0, 0.4, 5.5, 4, 2.5, 0.4, 0, 0,
  0, 0, 0, 0, 0, 0, 0, 0,
  0, 0, 0, 0, 0, 0, 0, 0,
  0, 0, 0, 0, 0, 0, 0, 0,
  0, 0.3, 0, 0, 0, 0, 0, 0,
  0, 0, 0, 0, 0, 0, 0, 0,
  0, 0, 0, 0, 0, 0, 0, 0,
  0, 0, 0, 0, 0, 0, 0, 0,
];
const RAIN_20 = [
  0.2, 1, 10.5, 3, 0.4, 0, 0, 0,
  0, 0, 0, 0, 0, 0, 0, 0,
  0, 0, 0, 0, 0, 0, 0, 0,
  0, 0, 0, 0, 0, 0.3, 0.3, 0,
  0, 0, 0, 0, 0, 0, 0, 0,
  0, 0, 0, 0, 0, 0, 0, 0,
  0, 0, 0, 0, 0, 0, 0, 0,
  0, 0, 0, 0, 0, 0, 0, 0,
];
const RAIN_21 = [
  0, 0.1, 0.5, 0.8, 0.2, 0, 0, 0,
  0, 0, 0, 0, 0, 0, 0, 0,
  0, 0, 0, 0, 0, 0, 0, 0,
  0, 0, 0, 0, 0, 0, 0, 0,
  0, 0, 0, 0, 0, 0, 0, 0,
  0, 0, 0, 0, 0, 0, 0, 0,
  0, 0, 0, 0, 0, 0, 0, 0,
  0, 0, 0, 0, 0, 0, 0, 0,
];
const RAIN_22 = [
  0.1, 0.5, 5, 4.5, 1, 0.1, 0, 0,
  0, 0, 0, 0, 0, 0, 0, 0,
  0, 0, 0, 0, 0, 0, 0, 0,
  0, 0, 0, 0, 0, 0, 0, 0,
  0, 0, 0, 0, 0, 0, 0, 0,
  0, 0, 0, 1.7, 1.0, 0, 0, 0,
  0, 0, 0, 0, 0, 0, 0, 0,
  0, 0, 0, 0, 0, 0, 0, 0,
];
const RAIN_23 = [
  0, 0.6, 6, 7.5, 2, 0.3, 0, 0,
  0, 0, 0, 0, 0, 0, 0, 0,
  0, 0, 0, 0, 0, 0, 0, 0,
  0, 0, 0, 0, 0, 0, 0, 0,
  0.3, 2.3, 0.3, 0, 0, 0, 0, 0,
  0, 0, 0, 1.8, 1.0, 2.3, 0.3, 0,
  0, 0, 0, 0, 0, 0, 0, 0,
  0, 0, 0, 0, 0, 0, 0, 0,
];
const RAIN_24 = [
  0, 0.3, 3.5, 15, 4, 0.6, 0, 0,
  0, 0, 0, 0, 0, 0, 0, 0,
  0, 0, 0, 0, 0, 0, 0, 0,
  0, 0, 0, 0, 0, 0, 0, 0,
  0, 0, 0, 0, 0, 0, 0, 0,
  0, 0, 0, 0, 0, 0, 0, 0,
  0, 0, 0, 0, 0, 0, 0, 0,
  0, 0, 0, 0, 0, 0, 0, 0,
];
const RAIN_25 = [
  0.1, 0.4, 1.5, 2, 0.5, 0, 0, 0,
  0, 0, 0, 0, 0, 0, 0, 0,
  0, 0, 0, 0, 0, 0, 0, 0,
  0, 0, 0, 0, 0, 0, 0, 0,
  0, 0, 0, 0, 0, 0, 0, 0,
  0, 0, 0, 0, 0, 0, 0, 0,
  0, 0, 0, 0.7, 1.7, 0.2, 0, 0,
  0.4, 3.6, 2.4, 1.6, 1.8, 2.2, 0.2, 0,
];
const RAIN_26 = [
  0, 0.5, 4, 6.5, 2.8, 0.4, 0, 0,
  0, 0, 0, 0, 0, 0, 0, 0,
  0, 0, 0, 0, 0, 0, 0, 0,
  0, 0, 0, 0, 0, 0, 0, 0,
  0, 0, 0, 0, 0, 0, 0, 0,
  0, 0, 0, 0, 0, 0, 0, 0,
  0, 0, 0, 0, 0, 0, 0, 0,
  0, 0, 0, 0, 0.5, 0.4, 0.6, 0.2,
];
const RAIN_27 = [
  0.1, 0.9, 8, 4, 0.6, 0, 0, 0,
  0, 0, 0, 0, 0, 0, 0, 0,
  0, 0, 0, 0, 0, 0, 0, 0,
  0, 0, 0, 0, 0, 0, 0, 0,
  0, 0, 0, 0, 0, 0, 0, 0,
  0, 0, 0, 0, 0, 0, 0, 0,
  0, 0, 0.3, 0, 0, 0, 0, 0,
  0, 0, 0, 0, 0, 0, 0, 0,
];
const RAIN_28 = [
  0, 0.3, 4.5, 8.3, 8.6, 1.5, 0.2, 0,
  0, 0, 0, 0, 0, 0, 0, 0,
  0, 0, 0, 0, 0, 0, 0, 0,
  0, 0, 0, 0, 0, 0, 0, 0,
  0, 0, 0, 0, 0, 0, 0, 0,
  0, 0, 0, 0, 0, 0, 0, 0,
  0, 0, 0, 0, 0, 0, 0, 0,
  0, 0.5, 0.6, 0.6, 0.8, 0.7, 2.1, 0.3,
];
const RAIN_29 = [
  0.1, 0.8, 12.6, 5, 1, 0.1, 0, 0,
  0, 0, 0, 0, 0, 0, 0, 0,
  0, 0, 0, 0, 0, 0, 0, 0,
  0, 0, 0, 0, 0, 0, 0, 0,
  0, 0, 0, 0, 0, 0, 0, 0,
  0, 0, 0, 0, 0, 0, 0, 0,
  0, 0, 0, 0, 0, 0, 0, 0,
  0, 0, 0, 0, 0, 0, 0, 0,
];
const RAIN_30 = [
  0.1, 0.6, 9, 5, 0.8, 0, 0, 0,
  0, 0, 0, 0, 0, 0, 0, 0,
  0, 0, 0, 0, 0, 0, 0, 0,
  0, 0, 0, 0, 0, 0, 0, 0,
  0, 0, 0, 0, 0, 0, 0, 0,
  0, 0, 0, 0, 0, 0, 0, 0,
  0, 0, 0, 0, 0, 0, 0, 0,
  0, 0, 0, 0, 0, 0, 0, 0,
];
const MEMBER_RAIN = [RAIN_01, RAIN_02, RAIN_03, RAIN_04, RAIN_05, RAIN_06, RAIN_07, RAIN_08, RAIN_09, RAIN_10, RAIN_11, RAIN_12, RAIN_13, RAIN_14, RAIN_15, RAIN_16, RAIN_17, RAIN_18, RAIN_19, RAIN_20, RAIN_21, RAIN_22, RAIN_23, RAIN_24, RAIN_25, RAIN_26, RAIN_27, RAIN_28, RAIN_29, RAIN_30];

// ---------- texts ----------
const TITLE = "Diagramme des ensembles GEFS sur 384h : 38.2N 0.6W";
const SUBTITLE = "Pression au niveau de la mer (hPa) , précipitations (mm)";
const RUN_INFO = "Ensemble GEFS du 08/09/2025 - 18Z";
const COPYRIGHT = "Copyright 2025 Meteociel.fr";
const ALTITUDE = "Altitude du modele : 51m";

const FONT = "'DejaVu Sans Mono', 'Liberation Mono', monospace";

const presData = (arr: number[]) => arr.map((v, i) => [i * STEP_HOURS, v]);
const rainData = (arr: number[]) => arr.map((v, i) => [(i + 1) * STEP_HOURS, v]);

function txt(text: string, x: number, y: number, size: number, bold = false, align = "left") {
  return {
    type: "text",
    x,
    y,
    silent: true,
    z: 100,
    style: {
      text,
      font: `${bold ? "bold " : ""}${size}px ${FONT}`,
      fill: "#000",
      align,
      verticalAlign: "middle",
      textAlign: align,
      textVerticalAlign: "middle",
    },
  };
}

function buildOption() {
  const series: any[] = [];
  MEMBER_PRESSURE.forEach((arr, k) => {
    series.push({
      type: "line",
      name: "P" + (k + 1),
      data: presData(arr),
      yAxisIndex: 0,
      symbol: "rect",
      symbolSize: 2,
      showSymbol: true,
      lineStyle: { color: MEMBER_COLORS[k], width: 1 },
      itemStyle: { color: MEMBER_COLORS[k] },
      z: 2,
      silent: true,
    });
  });
  MEMBER_RAIN.forEach((arr, k) => {
    series.push({
      type: "line",
      name: "R" + (k + 1),
      data: rainData(arr),
      yAxisIndex: 1,
      symbol: "rect",
      symbolSize: 2,
      showSymbol: true,
      lineStyle: { color: MEMBER_COLORS[k], width: 1 },
      itemStyle: { color: MEMBER_COLORS[k] },
      z: 2,
      silent: true,
    });
  });
  const thick = (name: string, data: any[], axis: number, color: string, width: number, z: number) => ({
    type: "line",
    name,
    data,
    yAxisIndex: axis,
    symbol: "none",
    lineStyle: { color, width },
    z,
    silent: true,
  });
  series.push(thick("gfsP", presData(PRES_GFS), 0, "#000000", 3.5, 3));
  series.push(thick("gfsR", rainData(RAIN_GFS), 1, "#000000", 3.5, 3));
  series.push(thick("ctlP", presData(PRES_CONTROL), 0, "#0000ff", 3.5, 4));
  series.push(thick("ctlR", rainData(RAIN_CONTROL), 1, "#0000ff", 3.5, 4));
  series.push(thick("meanP", presData(PRES_MEAN), 0, "#ff0000", 4, 5));
  series.push(thick("meanR", rainData(RAIN_MEAN), 1, "#ff0000", 4, 5));

  const graphic: any[] = [
    txt("Pression", 59, 244, 10),
    txt("Précipitations", 59, 408, 10),
    txt("(hPa)", 20, 607, 10),
    txt("(mm)", 710, 607, 10),
    { type: "line", shape: { x1: 35, y1: 647, x2: 66, y2: 647 }, style: { stroke: "#ff0000", lineWidth: 4 }, silent: true },
    txt("Moyenne des scénarios", 75, 647, 10),
    { type: "line", shape: { x1: 225, y1: 637, x2: 256, y2: 637 }, style: { stroke: "#0000ff", lineWidth: 4 }, silent: true },
    txt("Run de contrôle", 264, 637, 10),
    { type: "line", shape: { x1: 225, y1: 647, x2: 256, y2: 647 }, style: { stroke: "#000000", lineWidth: 4 }, silent: true },
    txt("Run GFS", 264, 647, 10),
    txt(ALTITUDE, 180, 660, 10),
    txt("30 Perts.", 340, 652, 10),
    { type: "rect", shape: { x: 20.5, y: 666.5, width: 420, height: 32 }, style: { fill: "none", stroke: "#000", lineWidth: 1 }, silent: true },
    txt(TITLE, 30, 677, 11.4, true),
    txt(SUBTITLE, 30, 692, 10),
    txt(RUN_INFO, 450, 672, 10),
    txt(COPYRIGHT, 450, 692, 11.5, true),
  ];
  MEMBER_COLORS.forEach((c, k) => {
    graphic.push({ type: "rect", shape: { x: 400 + 11 * k, y: 650, width: 10, height: 6 }, style: { fill: c }, silent: true });
    graphic.push(txt(String(k + 1).padStart(2, "0"), 405 + 11 * k, 643.5, 7, false, "center"));
  });

  return {
    animation: false,
    backgroundColor: "#ffffff",
    grid: { left: 50, right: 50, top: 0, bottom: 100, containLabel: false, outerBoundsMode: "none" },
    xAxis: {
      type: "value",
      min: 0,
      max: RUN_HOURS,
      axisLine: { show: true, onZero: false, lineStyle: { color: "#000", width: 1 } },
      axisTick: { show: false, customValues: DATE_TICK_HOURS },
      splitLine: { show: true, lineStyle: { color: "#c0c0c0", width: 1 } },
      axisLabel: {
        customValues: DATE_TICK_HOURS,
        rotate: 90,
        margin: 3,
        verticalAlign: "top",
        fontFamily: FONT,
        fontSize: 10,
        color: "#000",
        formatter: (v: number) => {
          const idx = DATE_TICK_HOURS.indexOf(Math.round(v));
          return idx >= 0 ? DATE_LABELS[idx] : "";
        },
      },
    },
    yAxis: [
      {
        type: "value",
        position: "left",
        min: PRESSURE_MIN,
        max: PRESSURE_MAX,
        axisLine: { show: true, lineStyle: { color: "#000", width: 1 } },
        axisTick: { show: true, length: 3, customValues: PRESSURE_TICKS, lineStyle: { color: "#c0c0c0" } },
        axisLabel: {
          customValues: PRESSURE_TICKS,
          margin: 7,
          fontFamily: FONT,
          fontSize: 10,
          color: "#000",
          verticalAlign: "top",
          lineHeight: 5,
          formatter: (v: number) => String(Math.round(v)),
        },
        splitLine: { show: true, lineStyle: { color: "#c0c0c0", width: 1 } },
      },
      {
        type: "value",
        position: "right",
        min: PRECIP_MIN,
        max: PRECIP_MAX,
        axisLine: { show: true, lineStyle: { color: "#000", width: 1 } },
        axisTick: { show: false, customValues: PRECIP_TICKS },
        axisLabel: {
          customValues: PRECIP_TICKS,
          margin: 20,
          align: "left",
          fontFamily: FONT,
          fontSize: 10,
          color: "#000",
          verticalAlign: "top",
          lineHeight: 5,
          formatter: (v: number) => String(Math.round(v)),
        },
        splitLine: { show: false },
      },
    ],
    series,
    graphic,
  };
}

export default function App() {
  const ref = useRef<HTMLDivElement>(null);
  useEffect(() => {
    if (!ref.current) return;
    document.body.style.margin = "0";
    const chart = echarts.init(ref.current, undefined, { renderer: "svg" });
    chart.setOption(buildOption() as any);
    return () => chart.dispose();
  }, []);
  return (
    <div
      ref={ref}
      style={{ position: "absolute", left: 0, top: 0, width: 740, height: 700, background: "#fff" }}
    />
  );
}
